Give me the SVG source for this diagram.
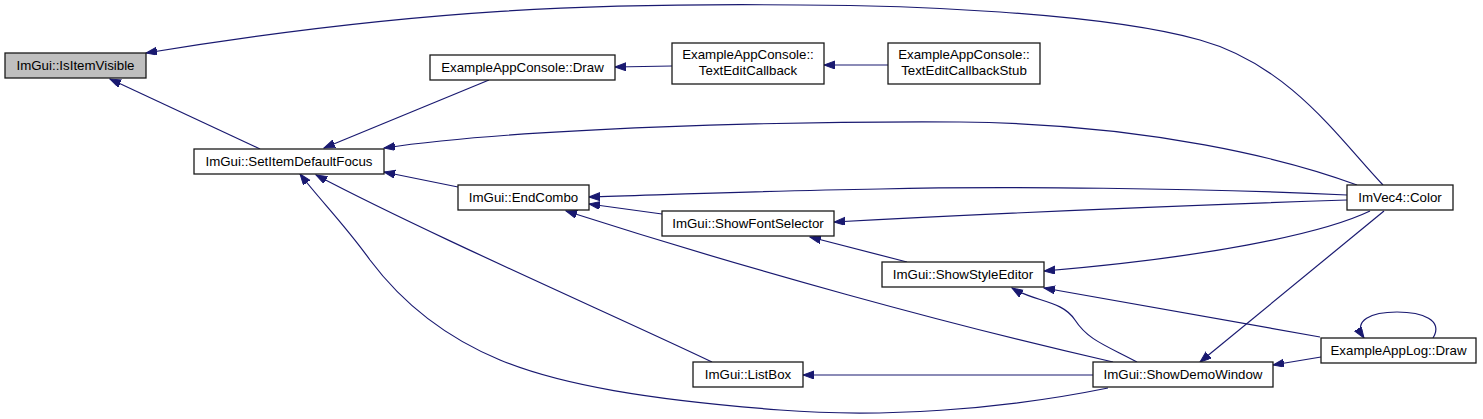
<svg xmlns="http://www.w3.org/2000/svg" width="1483" height="419" viewBox="0 0 1483 419">
<defs>
<marker id="arr" markerWidth="12" markerHeight="10" refX="11" refY="4" orient="auto" markerUnits="userSpaceOnUse">
<path d="M0,0 L11,4 L0,8 z" fill="#191970" stroke="#191970" stroke-width="1"/>
</marker>
<style>
.node rect{fill:#ffffff;stroke:#1a1a1a;stroke-width:1.3}
.node.cur rect{fill:#bfbfbf}
.node text{font-family:"Liberation Sans",Arial,sans-serif;font-size:13.3px;fill:#000000;text-anchor:middle}
.edges path{fill:none;stroke:#191970;stroke-width:1.2;marker-end:url(#arr)}
</style>
</defs>
<rect width="1483" height="419" fill="#ffffff"/>
<g class="edges">
<path d="M1383,185 C1340,140 1290,65 1200,40 C1100,12 900,5 800,5 C600,3 420,8 146,53"/>
<path d="M260,149 L110,79"/>
<path d="M489,80 L324,148"/>
<path d="M672,66 L615,67"/>
<path d="M888,65 L824,65"/>
<path d="M1357,185 C1290,160 1150,124 960,122 C780,121 520,128 384,148"/>
<path d="M458,187 L384,172"/>
<path d="M1347,195 C1200,188 1000,186 880,189 C760,191 660,195 589,197"/>
<path d="M662,214 L589,204"/>
<path d="M1347,200 C1200,205 1000,213 834,222"/>
<path d="M907,262 L810,237"/>
<path d="M1370,211 C1320,235 1200,258 1044,271"/>
<path d="M1113,362 C950,325 750,270 566,211"/>
<path d="M712,362 C620,318 430,235 316,175"/>
<path d="M1108,388 C1000,410 880,418 780,410 C650,400 560,385 500,360 C440,335 400,300 370,260 C345,225 320,200 300,174"/>
<path d="M1093,375 L803,375"/>
<path d="M1137,362 C1105,345 1088,340 1075,320 C1062,300 1035,302 1012,288"/>
<path d="M1320,337 L1044,288"/>
<path d="M1384,211 L1200,362"/>
<path d="M1321,357 L1273,365"/>
<path d="M1433,338 C1444,320 1422,312 1397,312 C1372,312 1352,320 1364,338"/>
</g>
<g id="n_isitemvisible" class="node cur"><rect x="5" y="53" width="141" height="25"/><text x="75.5" y="70">ImGui::IsItemVisible</text></g>
<g id="n_setitemdefaultfocus" class="node"><rect x="194" y="149" width="190" height="25"/><text x="289" y="166">ImGui::SetItemDefaultFocus</text></g>
<g id="n_appconsole_draw" class="node"><rect x="430" y="55" width="185" height="25"/><text x="522.5" y="72">ExampleAppConsole::Draw</text></g>
<g id="n_texteditcallback" class="node"><rect x="672" y="43" width="152" height="41"/><text x="748" y="59">ExampleAppConsole::</text><text x="748" y="75">TextEditCallback</text></g>
<g id="n_texteditcallbackstub" class="node"><rect x="888" y="43" width="152" height="41"/><text x="964" y="59">ExampleAppConsole::</text><text x="964" y="75">TextEditCallbackStub</text></g>
<g id="n_endcombo" class="node"><rect x="458" y="185" width="131" height="25"/><text x="523.5" y="202">ImGui::EndCombo</text></g>
<g id="n_showfontselector" class="node"><rect x="662" y="211" width="172" height="25"/><text x="748" y="228">ImGui::ShowFontSelector</text></g>
<g id="n_showstyleeditor" class="node"><rect x="882" y="262" width="162" height="25"/><text x="963" y="279">ImGui::ShowStyleEditor</text></g>
<g id="n_listbox" class="node"><rect x="693" y="362" width="110" height="25"/><text x="748" y="379">ImGui::ListBox</text></g>
<g id="n_showdemowindow" class="node"><rect x="1093" y="362" width="180" height="25"/><text x="1183" y="379">ImGui::ShowDemoWindow</text></g>
<g id="n_applog_draw" class="node"><rect x="1321" y="338" width="155" height="25"/><text x="1398.5" y="355">ExampleAppLog::Draw</text></g>
<g id="n_imvec4_color" class="node"><rect x="1347" y="185" width="106" height="25"/><text x="1400" y="202">ImVec4::Color</text></g>
</svg>
